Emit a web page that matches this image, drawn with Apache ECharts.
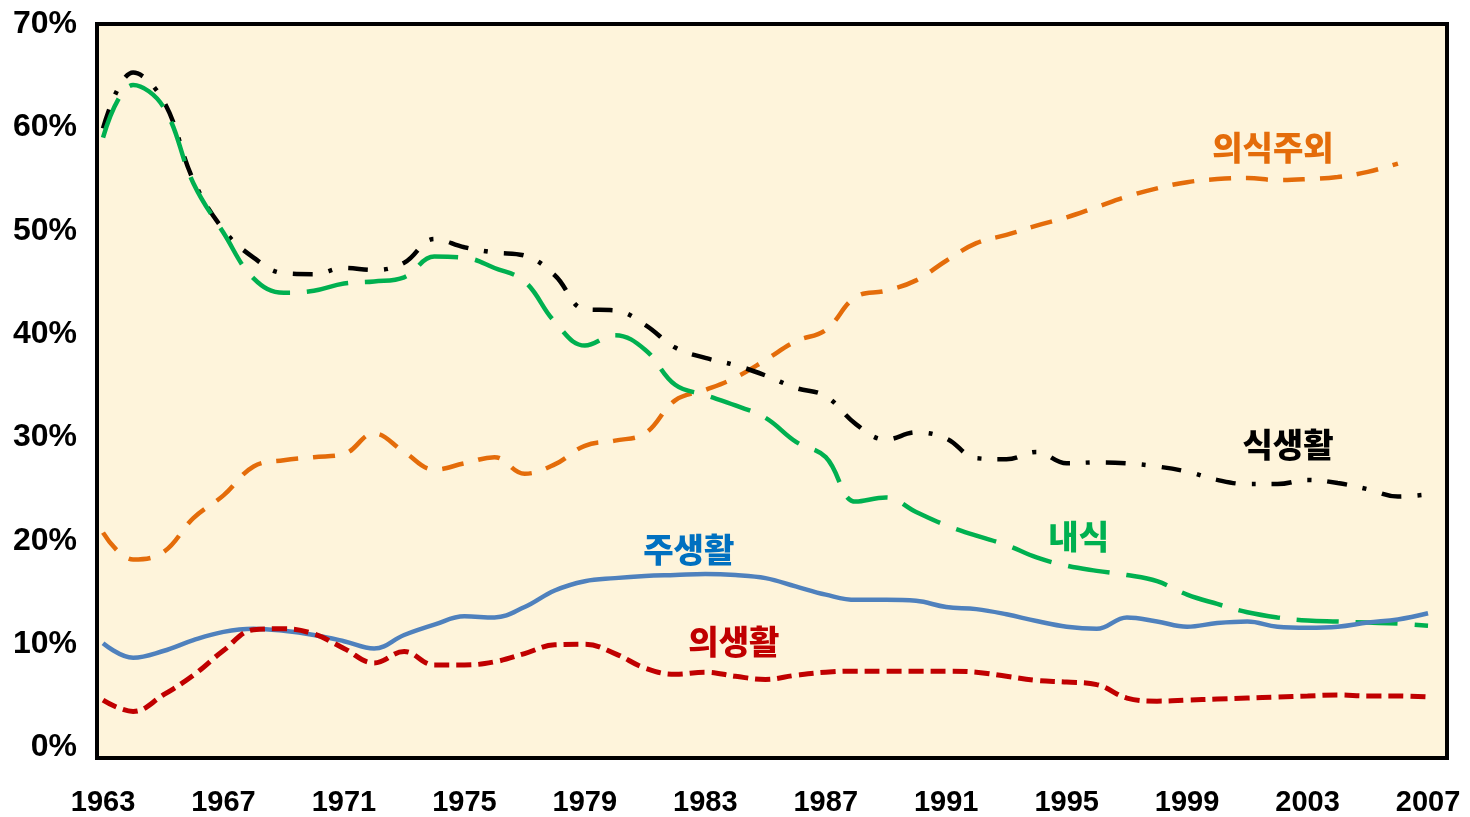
<!DOCTYPE html>
<html>

<head>
    <meta charset="utf-8">
    <title>ECharts</title>
    <script src="https://cdn.jsdelivr.net/npm/echarts@6/dist/echarts.min.js"></script>
    <style>
        html, body { margin: 0; padding: 0; background: #fff; }
    </style>
</head>

<body>
    <div id="main" style="width: 1470px;height:817px;"></div>
    <script>
        // 연도
        var years = [1963, 1964, 1965, 1966, 1967, 1968, 1969, 1970, 1971, 1972,
            1973, 1974, 1975, 1976, 1977, 1978, 1979, 1980, 1981, 1982,
            1983, 1984, 1985, 1986, 1987, 1988, 1989, 1990, 1991, 1992,
            1993, 1994, 1995, 1996, 1997, 1998, 1999, 2000, 2001, 2002,
            2003, 2004, 2005, 2006, 2007];
        var xTickLabels = [1963, 1967, 1971, 1975, 1979, 1983, 1987, 1991, 1995, 1999, 2003, 2007];
        var yTickLabels = [0, 10, 20, 30, 40, 50, 60, 70];

        // 식생활
        var sikSaenghwal = [59.9, 65.3, 62.6, 54.9, 50.1, 47.4, 45.9, 45.8, 46.4, 46.2,
            46.9, 49.2, 48.4, 47.9, 47.6, 45.7, 42.4, 42.3, 40.9, 38.7,
            37.7, 37.0, 36.0, 34.8, 34.0, 31.3, 29.8, 30.5, 29.9, 28.0,
            27.9, 28.6, 27.5, 27.6, 27.5, 27.2, 26.7, 25.9, 25.5, 25.5,
            25.9, 25.6, 25.0, 24.3, 24.5];
        // 내식
        var naesik = [59.0, 64.1, 62.0, 54.6, 49.8, 45.4, 44.0, 44.2, 44.9, 45.1,
            45.5, 47.5, 47.4, 46.4, 45.1, 41.2, 38.9, 39.9, 38.5, 35.1,
            34.1, 33.1, 31.9, 29.6, 28.1, 23.8, 24.2, 22.8, 21.5, 20.5,
            19.6, 18.4, 17.6, 17.1, 16.7, 16.1, 14.8, 13.9, 13.1, 12.6,
            12.3, 12.2, 12.1, 12.0, 11.8];
        // 주생활
        var juSaenghwal = [10.1, 8.7, 9.35, 10.4, 11.2, 11.5, 11.3, 10.9, 10.3, 9.6,
            10.9, 11.9, 12.7, 12.6, 13.6, 15.2, 16.1, 16.4, 16.6, 16.7,
            16.8, 16.7, 16.4, 15.6, 14.8, 14.3, 14.3, 14.2, 13.6, 13.4,
            12.9, 12.25, 11.7, 11.5, 12.6, 12.2, 11.7, 12.05, 12.2, 11.7,
            11.6, 11.7, 12.1, 12.4, 13.0];
        // 의생활
        var uiSaenghwal = [4.6, 3.5, 5.1, 7.0, 9.4, 11.4, 11.5, 11.0, 9.6, 8.2,
            9.3, 8.0, 8.0, 8.3, 9.1, 9.95, 10.0, 9.1, 7.7, 7.1,
            7.3, 6.9, 6.6, 7.0, 7.3, 7.4, 7.4, 7.4, 7.4, 7.3,
            6.9, 6.5, 6.35, 6.1, 4.8, 4.5, 4.6, 4.7, 4.8, 4.9,
            5.0, 5.1, 5.0, 5.0, 4.9];
        // 의식주외 (2006년까지)
        var uisikjuOe = [20.8, 18.2, 18.9, 22.2, 24.4, 27.2, 27.8, 28.1, 28.4, 30.4,
            28.6, 26.9, 27.5, 28.1, 26.5, 27.4, 29.2, 29.7, 30.4, 33.6,
            34.6, 35.8, 37.5, 39.3, 40.4, 43.6, 44.2, 45.2, 47.1, 48.8,
            49.6, 50.5, 51.3, 52.3, 53.3, 54.1, 54.7, 55.0, 55.1, 54.9,
            55.0, 55.2, 55.7, 56.5];

        function pairs(arr) {
            var out = [];
            for (var i = 0; i < arr.length; i++) {
                out.push([years[i], arr[i]]);
            }
            return out;
        }

        var labelFont = 'Noto Sans CJK KR';

        // 선 이름 라벨 (markPoint 로 데이터 좌표에 붙임)
        function nameTag(text, coord, color) {
            return {
                symbol: 'circle',
                symbolSize: 0,
                silent: true,
                label: {
                    show: true,
                    position: 'inside',
                    formatter: text,
                    color: color,
                    fontFamily: labelFont,
                    fontWeight: 900,
                    fontSize: 33
                },
                data: [{ coord: coord }]
            };
        }

        var myChart = echarts.init(document.getElementById('main'));

        var option = {
            backgroundColor: '#ffffff',
            animation: false,
            grid: {
                left: 97,
                right: 23,
                top: 24,
                bottom: 59,
                show: true,
                backgroundColor: '#FEF4DB',
                borderColor: '#000000',
                borderWidth: 4
            },
            xAxis: {
                type: 'value',
                min: 1962.8,
                max: 2007.63,
                splitLine: { show: false },
                axisLine: { show: false },
                axisTick: { show: false },
                axisLabel: {
                    customValues: xTickLabels,
                    margin: 30,
                    color: '#000',
                    fontFamily: 'Liberation Sans',
                    fontWeight: 'bold',
                    fontSize: 29,
                    formatter: function (v) { return String(v); }
                }
            },
            yAxis: {
                type: 'value',
                min: -1,
                max: 70,
                splitLine: { show: false },
                axisLine: { show: false },
                axisTick: { show: false },
                axisLabel: {
                    customValues: yTickLabels,
                    margin: 20,
                    color: '#000',
                    fontFamily: 'Liberation Sans',
                    fontWeight: 'bold',
                    fontSize: 32,
                    formatter: '{value}%'
                }
            },
            series: [{
                name: '의식주외',
                type: 'line',
                smooth: 0.4,
                showSymbol: false,
                lineStyle: { color: '#E46C0A', width: 4.5, type: [22, 15] },
                data: pairs(uisikjuOe),
                markPoint: nameTag('의식주외', [2001.85, 58.1], '#E46C0A')
            }, {
                name: '식생활',
                type: 'line',
                smooth: 0.4,
                showSymbol: false,
                lineStyle: { color: '#000000', width: 4.5, type: [20, 16, 4, 16] },
                data: pairs(sikSaenghwal),
                markPoint: nameTag('식생활', [2002.35, 29.3], '#000000')
            }, {
                name: '내식',
                type: 'line',
                smooth: 0.4,
                showSymbol: false,
                lineStyle: { color: '#00B050', width: 4.5, type: [42, 17] },
                data: pairs(naesik),
                markPoint: nameTag('내식', [1995.4, 20.4], '#00B050')
            }, {
                name: '주생활',
                type: 'line',
                smooth: 0.4,
                showSymbol: false,
                lineStyle: { color: '#4F81BD', width: 4.5 },
                data: pairs(juSaenghwal),
                markPoint: nameTag('주생활', [1982.45, 19.2], '#0070C0')
            }, {
                name: '의생활',
                type: 'line',
                smooth: 0.4,
                showSymbol: false,
                lineStyle: { color: '#C00000', width: 5, type: [15, 7] },
                data: pairs(uiSaenghwal),
                markPoint: nameTag('의생활', [1983.95, 10.3], '#C00000')
            }]
        };
        myChart.setOption(option);
    </script>
</body>

</html>
